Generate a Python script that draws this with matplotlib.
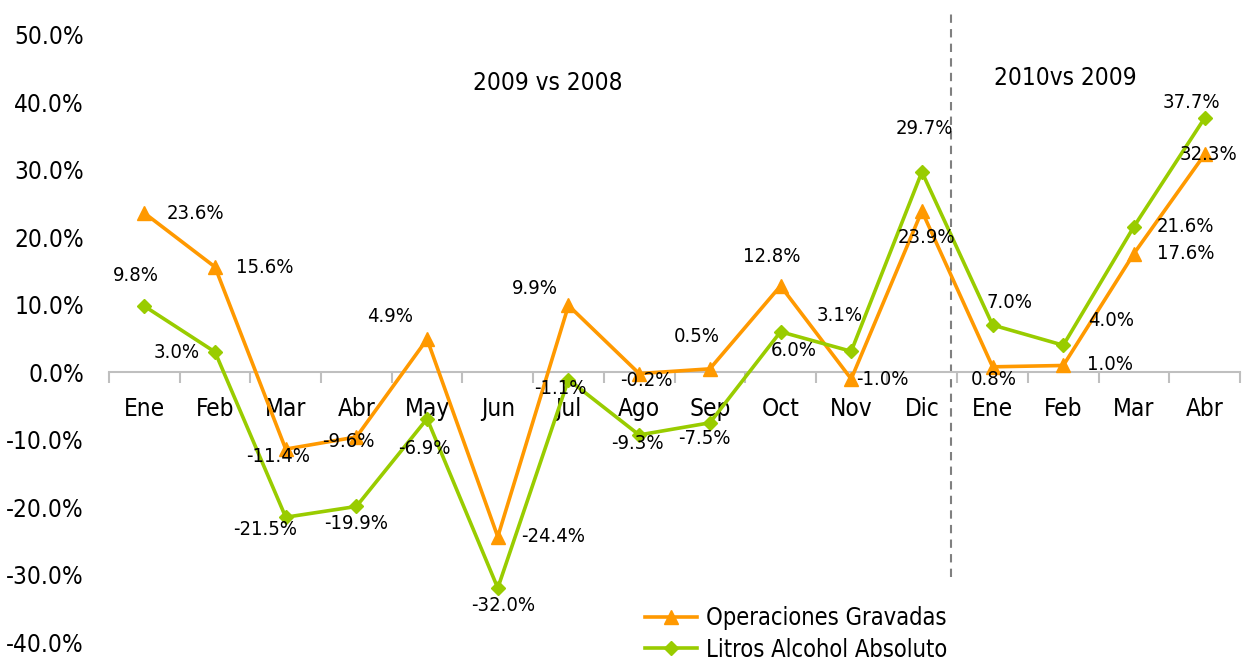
import matplotlib
matplotlib.use("Agg")
import matplotlib.pyplot as plt
from matplotlib import font_manager

# ---------------- data ----------------
months = ["Ene", "Feb", "Mar", "Abr", "May", "Jun", "Jul", "Ago", "Sep", "Oct", "Nov", "Dic",
          "Ene", "Feb", "Mar", "Abr"]
operaciones = [23.6, 15.6, -11.4, -9.6, 4.9, -24.4, 9.9, -0.2, 0.5, 12.8, -1.0, 23.9,
               0.8, 1.0, 17.6, 32.3]
litros = [9.8, 3.0, -21.5, -19.9, -6.9, -32.0, -1.1, -9.3, -7.5, 6.0, 3.1, 29.7,
          7.0, 4.0, 21.6, 37.7]
series_names = ["Operaciones Gravadas", "Litros Alcohol Absoluto"]
yticks = [-40, -30, -20, -10, 0, 10, 20, 30, 40, 50]
period_labels = ["2009 vs 2008", "2010vs 2009"]

# ---------------- label offsets (pixels: dx right, dy down) ----------------
off_op = [(51, 0), (50, 0), (-8, 7), (-8, 5), (-37, -23), (55, 0), (-34, -17), (7, 7),
          (-13, -32), (-9, -29), (31, 1), (5, 26), (1, 13), (47, -1), (52, 0), (4, 0)]
off_li = [(-8, -31), (-38, 1), (-21, 12), (0, 17), (-3, 30), (5, 17), (-8, 9), (-2, 9),
          (-5, 16), (13, 19), (-12, -36), (2, -43), (17, -23), (48, -25), (51, 0), (-13, -15)]

# ---------------- font ----------------
family = "DejaVu Sans"
stretch = "normal"
for f in font_manager.fontManager.ttflist:
    if f.name == "DejaVu Sans" and ("ondensed" in f.fname or str(f.stretch) in ("condensed", "semi-condensed")):
        stretch = "condensed"
        break
plt.rcParams["font.family"] = family
plt.rcParams["font.stretch"] = stretch
big = 16.5 if stretch == "normal" else 17.5
leg_size = 16 if stretch == "normal" else 17
small = 13.5 if stretch == "normal" else 14.5

ORANGE = "#FF9900"
GREEN = "#99CC00"

fig = plt.figure(figsize=(12.47, 6.61), dpi=100)
ax = fig.add_axes([109 / 1247, 1 - 642 / 661, (1240 - 109) / 1247, (642 - 35) / 661])

x = list(range(len(months)))
ax.plot(x, operaciones, color=ORANGE, lw=2.6, marker="^", ms=10.5, label=series_names[0], zorder=3)
ax.plot(x, litros, color=GREEN, lw=2.6, marker="D", ms=7, label=series_names[1], zorder=3)

for i, v in enumerate(operaciones):
    dx, dy = off_op[i]
    ax.annotate(f"{v:.1f}%", (i, v), xytext=(dx, -dy), textcoords="offset pixels",
                ha="center", va="center", fontsize=small, color="black", zorder=4)
for i, v in enumerate(litros):
    dx, dy = off_li[i]
    ax.annotate(f"{v:.1f}%", (i, v), xytext=(dx, -dy), textcoords="offset pixels",
                ha="center", va="center", fontsize=small, color="black", zorder=4)

ax.set_xlim(-0.5, len(months) - 0.5)
ax.set_ylim(-40, 50)
ax.set_yticks(yticks)
ax.set_yticklabels([f"{t:.1f}%" for t in yticks])
ax.tick_params(axis="y", length=0, pad=18, labelsize=big)

ax.set_xticks(x)
ax.set_xticklabels(months)
ax.set_xticks([i - 0.5 for i in range(len(months) + 1)], minor=True)
ax.tick_params(axis="x", which="major", length=0, pad=18, labelsize=big)
ax.tick_params(axis="x", which="minor", length=8, width=1.5, color="#BFBFBF", direction="out")

for s in ["left", "top", "right"]:
    ax.spines[s].set_visible(False)
ax.spines["bottom"].set_position(("data", 0))
ax.spines["bottom"].set_color("#BFBFBF")
ax.spines["bottom"].set_linewidth(1.5)

# period separator
ax.plot([11.41, 11.41], [-30.4, 53.7], color="#808080", lw=1.5, ls=(0, (4, 3)), clip_on=False, zorder=2)

ax.text(5.70, 42.9, period_labels[0], ha="center", va="center", fontsize=big)
ax.text(13.03, 43.6, period_labels[1], ha="center", va="center", fontsize=big)

leg = fig.legend(loc="center left", bbox_to_anchor=(645 / 1247, 1 - 634 / 661), frameon=False,
                 fontsize=leg_size, handlelength=2.2, labelspacing=0.3, handletextpad=0.4,
                 borderpad=0, borderaxespad=0)

fig.savefig("out.png", dpi=100)
